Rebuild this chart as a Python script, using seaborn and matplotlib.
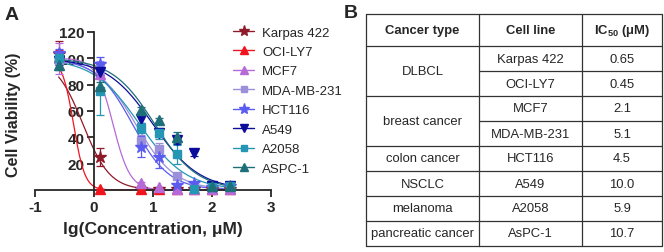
import numpy as np
import pandas as pd
import matplotlib
matplotlib.use("Agg")
import matplotlib.pyplot as plt
from matplotlib.lines import Line2D
import seaborn as sns

# dose-response data
lg_conc = [-0.6, 0.1, 0.8, 1.1, 1.4, 1.7, 2.0, 2.3]
cell_lines = ['Karpas 422', 'OCI-LY7', 'MCF7', 'MDA-MB-231', 'HCT116', 'A549', 'A2058', 'ASPC-1']
viability = {
    'Karpas 422': [103, 25, 1, 1, 1, 1, 1, 1],
    'OCI-LY7':    [101, 1, 1, 1, 1, 1, 1, 1],
    'MCF7':       [100, 88, 5, 2, 1, 1, 1, 1],
    'MDA-MB-231': [99, 93, 37, 31, 11, 3, 2, 2],
    'HCT116':     [104, 96, 33, 25, 4, 5, 2, 3],
    'A549':       [98, 90, 54, 43, 38, 28, 3, 3],
    'A2058':      [100, 75, 47, 43, 27, 1, 2, 3],
    'ASPC-1':     [95, 79, 61, 53, 40, np.nan, 3, 3],
}
viability_sd = {
    'Karpas 422': [10, 7, 0, 0, 0, 0, 0, 0],
    'OCI-LY7':    [5, 0, 0, 0, 0, 0, 0, 0],
    'MCF7':       [12, 3, 1, 0, 0, 0, 0, 0],
    'MDA-MB-231': [3, 5, 5, 5, 1, 1, 0, 0],
    'HCT116':     [3, 5, 8, 8, 1, 1, 0, 0],
    'A549':       [3, 3, 3, 3, 3, 2, 0, 0],
    'A2058':      [4, 18, 4, 4, 7, 1, 0, 0],
    'ASPC-1':     [4, 3, 2, 2, 4, 0, 0, 0],
}
# fitted 4PL parameters (IC50 in uM from table, hill slopes estimated)
ic50_fit = [0.65, 0.45, 2.1, 5.1, 4.5, 10.0, 5.9, 10.7]
hill = [1.9, 4.5, 3.0, 1.3, 1.4, 1.1, 1.1, 1.2]

colors = ['#8E1B2A', '#F0141E', '#B56AD8', '#9C90DA', '#5B5BF0', '#0C0C9C', '#2596B4', '#1F6F7A']
markers = ['*', '^', '^', 's', '*', 'v', 's', '^']
msizes = [9, 7, 7, 6, 9, 7, 6, 7]

# table data
cancer_types = ['DLBCL', 'breast cancer', 'colon cancer', 'NSCLC', 'melanoma', 'pancreatic cancer']
type_spans = [2, 2, 1, 1, 1, 1]
table_lines = ['Karpas 422', 'OCI-LY7', 'MCF7', 'MDA-MB-231', 'HCT116', 'A549', 'A2058', 'AsPC-1']
ic50_text = ['0.65', '0.45', '2.1', '5.1', '4.5', '10.0', '5.9', '10.7']

sns.set_style("ticks")
plt.rcParams['font.family'] = ['Liberation Sans', 'DejaVu Sans']
plt.rcParams['axes.unicode_minus'] = False
plt.rcParams['mathtext.fontset'] = 'custom'
plt.rcParams['mathtext.rm'] = 'Liberation Sans'
plt.rcParams['mathtext.bf'] = 'Liberation Sans:bold'

fig = plt.figure(figsize=(6.64, 2.53), dpi=100)
W, H = 664, 253
ax = fig.add_axes([35 / W, 1 - 191 / H, 236 / W, 158 / H])

xs = np.linspace(-0.6, 2.3, 300)
for i, name in enumerate(cell_lines):
    curve = 100 / (1 + 10 ** ((xs - np.log10(ic50_fit[i])) * hill[i]))
    sns.lineplot(x=xs, y=curve, color=colors[i], lw=0.9, ax=ax, clip_on=False)
for i, name in enumerate(cell_lines):
    ax.errorbar(lg_conc, viability[name], yerr=viability_sd[name], fmt='none',
                ecolor=colors[i], elinewidth=0.9, capsize=3, capthick=0.9, clip_on=False, zorder=3)
    ax.plot(lg_conc, viability[name], ls='none', marker=markers[i], ms=msizes[i],
            color=colors[i], clip_on=False, zorder=4)

ax.set_xlim(-1, 3)
ax.set_ylim(0, 120)
ax.set_xticks([-1, 0, 1, 2, 3])
ax.set_yticks([20, 40, 60, 80, 100, 120])
ax.spines['left'].set_position(('data', 0))
ax.spines['right'].set_visible(False)
ax.spines['top'].set_visible(False)
for s in ['left', 'bottom']:
    ax.spines[s].set_linewidth(1.3)
ax.tick_params(width=1.3, length=5, labelsize=11, pad=2)
for lab in ax.get_xticklabels() + ax.get_yticklabels():
    lab.set_fontweight('bold')
ax.set_xlabel('lg(Concentration, μM)', fontsize=12.5, fontweight='bold', labelpad=5)
ax.set_ylabel('Cell Viability (%)', fontsize=11.5, fontweight='bold')
ax.yaxis.set_label_coords(-0.06, 0.48)

handles = [Line2D([0], [0], color=colors[i], marker=markers[i], ms=msizes[i] - 1, lw=1)
           for i in range(len(cell_lines))]
fig.legend(handles, cell_lines, loc='upper left', bbox_to_anchor=(228 / W, 1 - 22 / H),
           frameon=False, fontsize=9.5, handlelength=1.6, handletextpad=0.6,
           labelspacing=0.55, borderaxespad=0)

fig.text(5 / W, 1 - 15 / H, 'A', fontsize=14, fontweight='bold', va='center')
fig.text(344 / W, 1 - 13 / H, 'B', fontsize=14, fontweight='bold', va='center')

# table B
tx = fig.add_axes([0, 0, 1, 1])
tx.set_xlim(0, W)
tx.set_ylim(H, 0)
tx.axis('off')
left, c1, c2, right = 366, 479, 582, 662
top, head_bot, bottom = 15, 47, 247
row_h = (bottom - head_bot) / len(table_lines)
lw = 0.9
fs = 9.4
for x in [left, c1, c2, right]:
    tx.plot([x, x], [top, bottom], color='#333333', lw=lw)
tx.plot([left, right], [top, top], color='#333333', lw=lw)
tx.plot([left, right], [head_bot, head_bot], color='#333333', lw=lw)
tx.text((left + c1) / 2, (top + head_bot) / 2, 'Cancer type', ha='center', va='center', fontsize=fs, fontweight='bold')
tx.text((c1 + c2) / 2, (top + head_bot) / 2, 'Cell line', ha='center', va='center', fontsize=fs, fontweight='bold')
tx.text((c2 + right) / 2, (top + head_bot) / 2, r'IC$_{\mathbf{50}}$ (μM)', ha='center', va='center', fontsize=fs, fontweight='bold')
for r in range(len(table_lines)):
    y0 = head_bot + r * row_h
    tx.plot([c1, right], [y0 + row_h, y0 + row_h], color='#333333', lw=lw)
    tx.text((c1 + c2) / 2, y0 + row_h / 2, table_lines[r], ha='center', va='center', fontsize=fs)
    tx.text((c2 + right) / 2, y0 + row_h / 2, ic50_text[r], ha='center', va='center', fontsize=fs)
r = 0
for name, span in zip(cancer_types, type_spans):
    y0 = head_bot + r * row_h
    tx.plot([left, c1], [y0 + span * row_h, y0 + span * row_h], color='#333333', lw=lw)
    tx.text((left + c1) / 2, y0 + span * row_h / 2, name, ha='center', va='center', fontsize=fs)
    r += span

fig.savefig('out.png', dpi=100)
